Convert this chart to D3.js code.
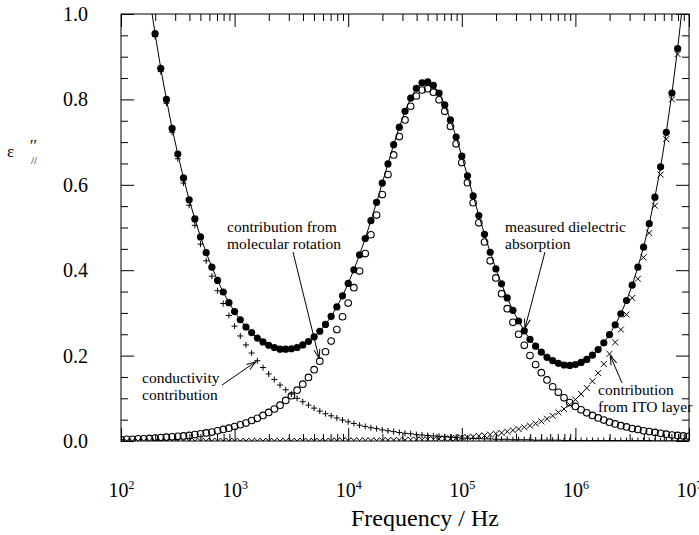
<!DOCTYPE html>
<html>
<head>
<meta charset="utf-8">
<script src="https://cdn.jsdelivr.net/npm/d3@7"></script>
<style>
  body { margin: 0; background: #fff; }
  text { font-family: "Liberation Serif", "Times New Roman", serif; fill: #000; }
</style>
</head>
<body>
<svg id="chart" width="699" height="535"></svg>
<script>
'use strict'

// log10 of measurement frequency (Hz), 20 points per decade
const logFreq = [
  2.00, 2.05, 2.10, 2.15, 2.20, 2.25, 2.30, 2.35, 2.40, 2.45,
  2.50, 2.55, 2.60, 2.65, 2.70, 2.75, 2.80, 2.85, 2.90, 2.95,
  3.00, 3.05, 3.10, 3.15, 3.20, 3.25, 3.30, 3.35, 3.40, 3.45,
  3.50, 3.55, 3.60, 3.65, 3.70, 3.75, 3.80, 3.85, 3.90, 3.95,
  4.00, 4.05, 4.10, 4.15, 4.20, 4.25, 4.30, 4.35, 4.40, 4.45,
  4.50, 4.55, 4.60, 4.65, 4.70, 4.75, 4.80, 4.85, 4.90, 4.95,
  5.00, 5.05, 5.10, 5.15, 5.20, 5.25, 5.30, 5.35, 5.40, 5.45,
  5.50, 5.55, 5.60, 5.65, 5.70, 5.75, 5.80, 5.85, 5.90, 5.95,
  6.00, 6.05, 6.10, 6.15, 6.20, 6.25, 6.30, 6.35, 6.40, 6.45,
  6.50, 6.55, 6.60, 6.65, 6.70, 6.75, 6.80, 6.85, 6.90, 6.95,
  7.00
]

// measured dielectric absorption (filled circles + line)
const measured = [
  1.626, 1.487, 1.360, 1.244, 1.138, 1.042, 0.954, 0.873, 0.800, 0.732,
  0.672, 0.616, 0.565, 0.520, 0.478, 0.441, 0.407, 0.376, 0.349, 0.324,
  0.303, 0.284, 0.267, 0.254, 0.241, 0.232, 0.224, 0.219, 0.215, 0.215,
  0.216, 0.219, 0.225, 0.233, 0.244, 0.257, 0.273, 0.292, 0.314, 0.340,
  0.369, 0.401, 0.436, 0.474, 0.516, 0.559, 0.604, 0.649, 0.694, 0.735,
  0.772, 0.803, 0.826, 0.839, 0.841, 0.833, 0.815, 0.787, 0.752, 0.712,
  0.667, 0.621, 0.574, 0.528, 0.484, 0.442, 0.403, 0.368, 0.335, 0.306,
  0.281, 0.258, 0.238, 0.222, 0.208, 0.196, 0.188, 0.182, 0.178, 0.177,
  0.179, 0.184, 0.191, 0.201, 0.214, 0.230, 0.249, 0.272, 0.298, 0.329,
  0.365, 0.407, 0.454, 0.509, 0.571, 0.642, 0.723, 0.815, 0.919, 1.038,
  1.173
]

// contribution from molecular rotation (open circles)
const rotation = [
  0.003, 0.004, 0.004, 0.005, 0.005, 0.006, 0.007, 0.008, 0.009, 0.010,
  0.011, 0.012, 0.013, 0.015, 0.017, 0.019, 0.021, 0.024, 0.027, 0.030,
  0.034, 0.038, 0.042, 0.048, 0.053, 0.060, 0.067, 0.075, 0.084, 0.095,
  0.106, 0.119, 0.133, 0.149, 0.167, 0.187, 0.209, 0.234, 0.261, 0.291,
  0.323, 0.359, 0.398, 0.439, 0.483, 0.529, 0.577, 0.624, 0.670, 0.713,
  0.752, 0.784, 0.808, 0.822, 0.825, 0.817, 0.799, 0.772, 0.737, 0.696,
  0.652, 0.605, 0.558, 0.511, 0.466, 0.422, 0.382, 0.345, 0.310, 0.278,
  0.250, 0.224, 0.200, 0.179, 0.160, 0.143, 0.127, 0.114, 0.101, 0.090,
  0.081, 0.073, 0.066, 0.060, 0.054, 0.049, 0.044, 0.040, 0.036, 0.033,
  0.029, 0.027, 0.024, 0.022, 0.020, 0.018, 0.016, 0.014, 0.013, 0.012,
  0.011
]

// conductivity contribution (+)
const conductivity = [
  1.623, 1.483, 1.356, 1.239, 1.133, 1.036, 0.947, 0.865, 0.791, 0.723,
  0.661, 0.604, 0.552, 0.505, 0.461, 0.422, 0.386, 0.352, 0.322, 0.294,
  0.269, 0.246, 0.225, 0.206, 0.188, 0.172, 0.157, 0.144, 0.131, 0.120,
  0.110, 0.100, 0.092, 0.084, 0.077, 0.070, 0.064, 0.059, 0.054, 0.049,
  0.045, 0.041, 0.037, 0.034, 0.031, 0.029, 0.026, 0.024, 0.022, 0.020,
  0.018, 0.017, 0.015, 0.014, 0.013, 0.012, 0.011, 0.010, 0.009, 0.008,
  0.007, 0.007, 0.006, 0.006, 0.005, 0.005, 0.004, 0.004, 0.004, 0.003,
  0.003, 0.003, 0.003, 0.002, 0.002, 0.002, 0.002, 0.002, 0.001, 0.001,
  0.001, 0.001, 0.001, 0.001, 0.001, 0.001, 0.001, 0.001, 0.001, 0.001,
  0.001, 0.001, 0.001, 0.001, 0.000, 0.000, 0.000, 0.000, 0.000, 0.000,
  0.000
]

// contribution from ITO layer (x)
const ito = [
  0.000, 0.000, 0.000, 0.000, 0.000, 0.000, 0.000, 0.000, 0.000, 0.000,
  0.000, 0.000, 0.000, 0.000, 0.000, 0.000, 0.000, 0.000, 0.000, 0.000,
  0.000, 0.000, 0.000, 0.000, 0.000, 0.000, 0.000, 0.000, 0.000, 0.000,
  0.000, 0.000, 0.000, 0.000, 0.000, 0.000, 0.000, 0.000, 0.001, 0.001,
  0.001, 0.001, 0.001, 0.001, 0.001, 0.001, 0.001, 0.002, 0.002, 0.002,
  0.002, 0.003, 0.003, 0.003, 0.004, 0.004, 0.005, 0.006, 0.006, 0.007,
  0.008, 0.009, 0.010, 0.012, 0.013, 0.015, 0.017, 0.019, 0.022, 0.025,
  0.028, 0.032, 0.036, 0.041, 0.046, 0.052, 0.059, 0.067, 0.075, 0.085,
  0.097, 0.110, 0.124, 0.140, 0.159, 0.180, 0.204, 0.231, 0.261, 0.296,
  0.335, 0.380, 0.430, 0.487, 0.551, 0.624, 0.707, 0.800, 0.906, 1.026,
  1.162
]

const yMajorTicks = [0, 0.2, 0.4, 0.6, 0.8, 1.0]
const xMajorTicks = [1e2, 1e3, 1e4, 1e5, 1e6, 1e7]

const svg = d3.select('#chart')
const plotLeft = 121, plotRight = 689, plotTop = 14, plotBottom = 441

const x = d3.scaleLog().domain([1e2, 1e7]).range([plotLeft, plotRight])
const y = d3.scaleLinear().domain([0, 1]).range([plotBottom, plotTop])

const freq = logFreq.map(d => Math.pow(10, d))
const rows = s => s.map((v, i) => ({ f: freq[i], v: v }))

const yMinor = d3.range(0, 1.0001, 0.05).filter(d => Math.abs(d * 5 - Math.round(d * 5)) > 1e-6)
const xMinor = x.ticks().filter(d => xMajorTicks.indexOf(d) < 0)

// axes, ticks pointing inward
const tidy = g => { g.select('.domain').remove(); g.selectAll('line').attr('stroke', '#000').attr('stroke-width', 1) }

svg.append('g').attr('transform', `translate(0,${plotBottom})`)
  .call(d3.axisBottom(x).tickValues(xMajorTicks).tickSizeInner(-13).tickSizeOuter(0).tickPadding(56).tickFormat(''))
  .call(tidy)
  .selectAll('.tick text')
  .attr('dy', null)
  .each(function (d) {
    const t = d3.select(this).attr('font-size', 20)
    t.append('tspan').text('10')
    t.append('tspan').attr('dy', -8).attr('font-size', 12).text(Math.round(Math.log10(d)))
  })
svg.append('g').attr('transform', `translate(0,${plotBottom})`)
  .call(d3.axisBottom(x).tickValues(xMinor).tickSizeInner(-7).tickSizeOuter(0).tickFormat(''))
  .call(tidy)
svg.append('g').attr('transform', `translate(0,${plotTop})`)
  .call(d3.axisTop(x).tickValues(xMajorTicks).tickSizeInner(-13).tickSizeOuter(0).tickFormat(''))
  .call(tidy)
svg.append('g').attr('transform', `translate(0,${plotTop})`)
  .call(d3.axisTop(x).tickValues(xMinor).tickSizeInner(-7).tickSizeOuter(0).tickFormat(''))
  .call(tidy)

svg.append('g').attr('transform', `translate(${plotLeft},0)`)
  .call(d3.axisLeft(y).tickValues(yMajorTicks).tickSizeInner(-13).tickSizeOuter(0).tickPadding(33).tickFormat(d3.format('.1f')))
  .call(tidy)
  .selectAll('.tick text').attr('font-size', 20)
svg.append('g').attr('transform', `translate(${plotLeft},0)`)
  .call(d3.axisLeft(y).tickValues(yMinor).tickSizeInner(-7).tickSizeOuter(0).tickFormat(''))
  .call(tidy)
svg.append('g').attr('transform', `translate(${plotRight},0)`)
  .call(d3.axisRight(y).tickValues(yMajorTicks).tickSizeInner(-13).tickSizeOuter(0).tickFormat(''))
  .call(tidy)
svg.append('g').attr('transform', `translate(${plotRight},0)`)
  .call(d3.axisRight(y).tickValues(yMinor).tickSizeInner(-7).tickSizeOuter(0).tickFormat(''))
  .call(tidy)

svg.append('rect')
  .attr('x', plotLeft).attr('y', plotTop).attr('width', plotRight - plotLeft).attr('height', plotBottom - plotTop)
  .attr('fill', 'none').attr('stroke', '#000').attr('stroke-width', 1)

svg.append('clipPath').attr('id', 'plot-clip')
  .append('rect').attr('x', plotLeft).attr('y', plotTop).attr('width', plotRight - plotLeft).attr('height', plotBottom - plotTop)

const plot = svg.append('g').attr('clip-path', 'url(#plot-clip)')

// x markers (ITO)
plot.append('g').selectAll('path').data(rows(ito)).enter().append('path')
  .attr('d', 'M-3,-3L3,3M-3,3L3,-3')
  .attr('transform', d => `translate(${x(d.f)},${y(d.v)})`)
  .attr('stroke', '#000').attr('stroke-width', 1).attr('fill', 'none')

// + markers (conductivity)
plot.append('g').selectAll('path').data(rows(conductivity)).enter().append('path')
  .attr('d', 'M-3,0H3M0,-3V3')
  .attr('transform', d => `translate(${x(d.f)},${y(d.v)})`)
  .attr('stroke', '#000').attr('stroke-width', 1).attr('fill', 'none')

// fitted line and measured points
plot.append('path').datum(rows(measured))
  .attr('d', d3.line().x(d => x(d.f)).y(d => y(d.v)))
  .attr('fill', 'none').attr('stroke', '#000').attr('stroke-width', 1)

plot.append('g').selectAll('circle').data(rows(measured)).enter().append('circle')
  .attr('cx', d => x(d.f)).attr('cy', d => y(d.v)).attr('r', 3.6)
  .attr('fill', '#000')

// open circles (molecular rotation)
plot.append('g').selectAll('circle').data(rows(rotation)).enter().append('circle')
  .attr('cx', d => x(d.f)).attr('cy', d => y(d.v)).attr('r', 3.3)
  .attr('fill', 'none').attr('stroke', '#000').attr('stroke-width', 1.1)

// annotations
svg.append('defs').append('marker')
  .attr('id', 'arrow').attr('viewBox', '-10 -4 11 8').attr('refX', 0).attr('refY', 0)
  .attr('markerWidth', 11).attr('markerHeight', 8).attr('markerUnits', 'userSpaceOnUse').attr('orient', 'auto')
  .append('path').attr('d', 'M-9,-3L0,0L-9,3').attr('fill', 'none').attr('stroke', '#000').attr('stroke-width', 1)

const arrow = (x0, y0, i, series, gap) => {
  let x1 = x(freq[i]), y1 = y(series[i])
  const len = Math.hypot(x1 - x0, y1 - y0)
  x1 -= (x1 - x0) / len * gap
  y1 -= (y1 - y0) / len * gap
  svg.append('line').attr('x1', x0).attr('y1', y0).attr('x2', x1).attr('y2', y1)
    .attr('stroke', '#000').attr('stroke-width', 1).attr('marker-end', 'url(#arrow)')
}

const note = (x0, y0, lines) => {
  const t = svg.append('text').attr('x', x0).attr('y', y0).attr('font-size', 15.5)
  lines.forEach((s, i) => t.append('tspan').attr('x', x0).attr('dy', i ? 17 : 0).text(s))
}

note(227, 232, ['contribution from', 'molecular rotation'])
arrow(293, 252, 35, rotation, 3)

note(505, 232, ['measured dielectric', 'absorption'])
arrow(545, 252, 71, measured, 3)

note(142, 383, ['conductivity', 'contribution'])
arrow(222, 385, 24, conductivity, 2)

note(598, 395, ['contribution', 'from ITO layer'])
arrow(622, 383, 86, ito, 2)

// axis titles
svg.append('text').attr('x', 425).attr('y', 526)
  .attr('text-anchor', 'middle').attr('font-size', 24).text('Frequency / Hz')

svg.append('text').attr('x', 7).attr('y', 157).attr('font-size', 17).text('ε')
svg.append('text').attr('x', 30).attr('y', 151).attr('font-size', 16).text('′′')
svg.append('text').attr('x', 31).attr('y', 164).attr('font-size', 11).text('//')
</script>
</body>
</html>
